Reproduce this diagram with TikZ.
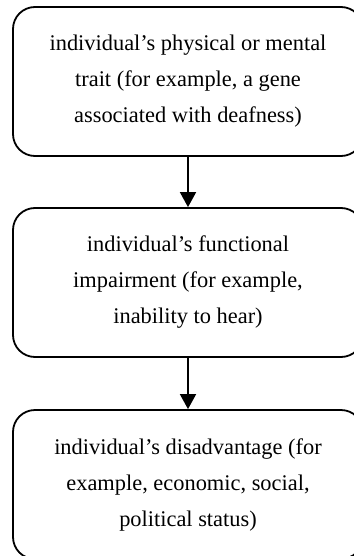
\documentclass[tikz,border=0pt]{standalone}
\usepackage{fontspec}
\setmainfont{Liberation Serif}
\usetikzlibrary{arrows.meta}
\begin{document}
\begin{tikzpicture}[x=1pt,y=-1pt,
  stagebox/.style={draw, line width=1.8pt, rounded corners=22pt,
    minimum width=350pt, minimum height=149pt, align=center,
    font=\fontsize{22.4}{36}\selectfont, inner sep=0pt},
  flowarrow/.style={line width=1.8pt, -{Triangle[width=16pt,length=15pt]}}]
\useasboundingbox (0,0) rectangle (353,556);
\fill[white] (0,0) rectangle (353,556);
\node[stagebox] (trait) at (188,81.5) {individual’s physical or mental\\trait (for example, a gene\\associated with deafness)};
\node[stagebox] (impair) at (188,282.5) {individual’s functional\\impairment (for example,\\inability to hear)};
\node[stagebox] (disadv) at (188,484.5) {individual’s disadvantage (for\\example, economic, social,\\political status)};
\draw[flowarrow] (trait.south) -- (impair.north);
\draw[flowarrow] (impair.south) -- (disadv.north);
\end{tikzpicture}
\end{document}
